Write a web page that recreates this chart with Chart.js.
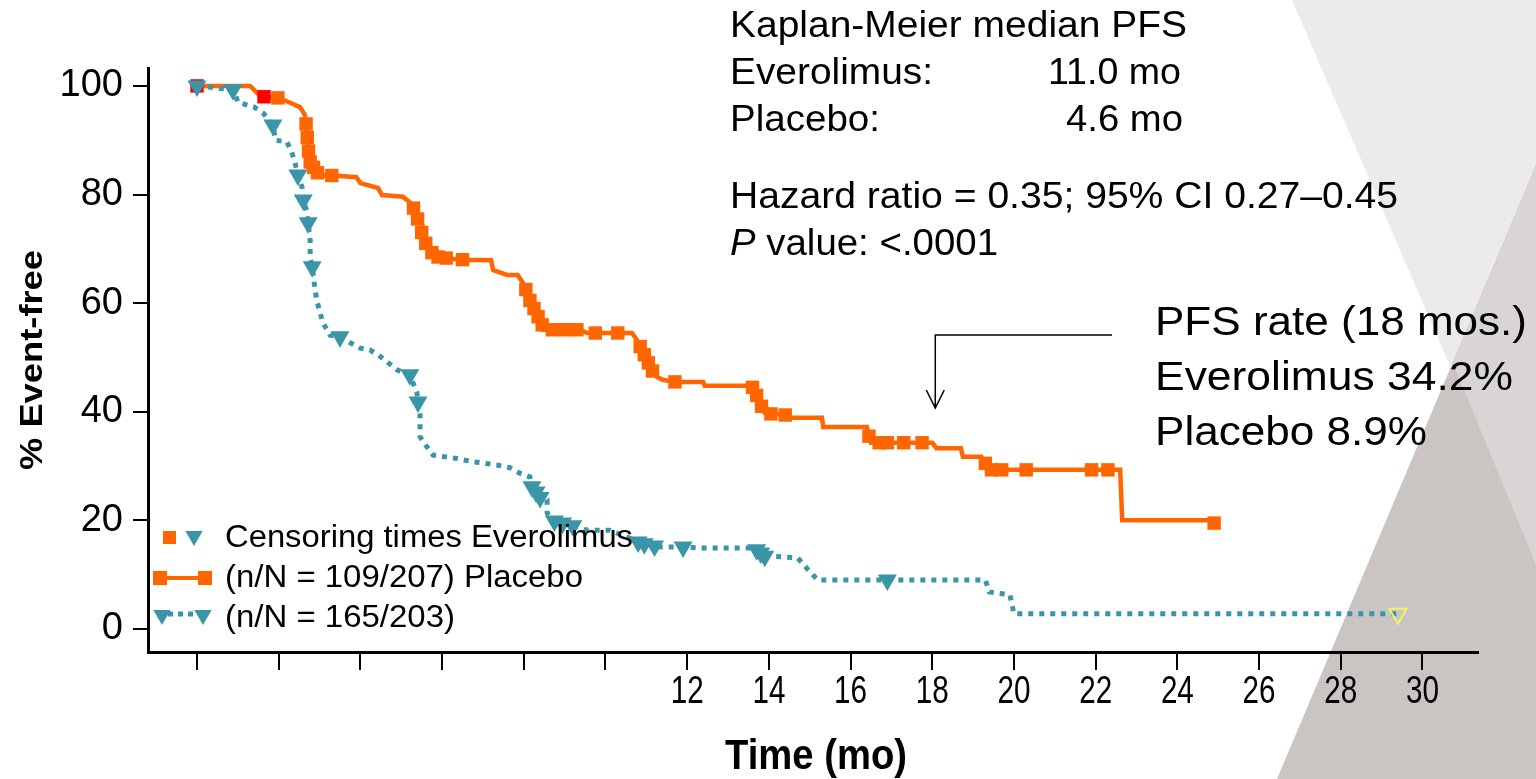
<!DOCTYPE html>
<html>
<head>
<meta charset="utf-8">
<script src="https://cdn.jsdelivr.net/npm/chart.js@4/dist/chart.umd.min.js"></script>
<style>
  html, body { margin: 0; padding: 0; background: #fff; }
  #wrap { width: 1536px; height: 779px; }
</style>
</head>
<body>
<div id="wrap"><canvas id="km" width="1536" height="779"></canvas></div>
<script>
// Everolimus (orange, solid) - curve as drawn
const everolimusTime = [0, 1.3, 1.5, 1.64, 2.0, 2.28, 2.52, 2.64, 2.69, 2.74, 2.81, 2.94, 3.0, 3.5, 3.9, 4.0, 4.43, 4.53, 5.04, 5.2,
  5.34, 5.5, 5.58, 5.7, 5.9, 6.44, 7.2, 7.25, 7.59, 7.85, 7.98, 8.47, 9.38, 9.55, 10.65, 10.77, 11.26, 11.4, 11.7, 12.39,
  12.43, 13.5, 13.66, 13.78, 13.9, 14.5, 14.55, 15.3, 15.33, 16.4, 16.5, 18.0, 18.1, 18.7, 18.75, 19.2, 19.35, 22.6, 22.65, 24.9];
const everolimusPFS = [100, 100, 98.5, 98, 97.8, 96.9, 96.1, 94.7, 91.9, 87.7, 86.4, 84.5, 83.6, 83.4, 83.2, 82.1, 81.2, 79.9, 79.6, 78.6,
  77.2, 74.8, 72.2, 69.8, 68.5, 68, 67.9, 66.1, 65.2, 65.2, 63.7, 55.1, 55.1, 54.5, 54.5, 53.2, 46.4, 45.9, 45.5, 45.5,
  44.8, 44.8, 44.2, 42.2, 39.8, 39.4, 38.9, 38.9, 37.2, 37.2, 34.3, 34.3, 33.3, 33.3, 31.7, 31.7, 29.3, 29.3, 20, 20];

// Everolimus censoring marks (squares)
const everolimusCensorTime = [0, 1.64, 1.98, 2.67, 2.7, 2.73, 2.77, 2.85, 2.95, 3.3,
  5.3, 5.4, 5.5, 5.6, 5.75, 5.9, 6.1, 6.5,
  8.05, 8.15, 8.25, 8.35, 8.45, 8.7, 9.0, 9.3, 9.75, 10.3,
  10.85, 10.95, 11.05, 11.15, 11.7,
  13.6, 13.7, 13.82, 14.05, 14.4,
  16.45, 16.7, 16.9, 17.3, 17.75,
  19.3, 19.45, 19.7, 20.3, 21.9, 22.3, 24.9];
const everolimusCensorPFS = [100, 98, 97.8, 93, 90.5, 88, 86, 85, 84, 83.5,
  77.5, 75.5, 73, 71, 69.3, 68.5, 68.3, 68,
  62.5, 60.5, 59, 57.5, 56, 55.1, 55.1, 55.1, 54.5, 54.5,
  52, 50.5, 49, 47.5, 45.5,
  44.5, 43, 41, 39.6, 39.4,
  35.5, 34.3, 34.3, 34.3, 34.3,
  30.5, 29.3, 29.3, 29.3, 29.3, 29.3, 19.5];

// Placebo (teal, dotted)
const placeboTime = [0, 0.9, 1.0, 1.4, 1.62, 1.86, 1.92, 2.2, 2.32, 2.4, 2.47, 2.57, 2.6, 2.7, 2.72, 2.77, 2.77, 2.82, 2.9, 2.95,
  3.08, 3.26, 3.5, 3.75, 4.0, 4.23, 4.43, 4.65, 4.9, 5.21, 5.38, 5.41, 5.46, 5.46, 5.63, 5.78, 6.27, 6.76, 7.34, 7.66,
  7.9, 8.15, 8.2, 8.57, 8.57, 8.7, 9.3, 9.55, 10.1, 10.5, 10.8, 11.3, 11.9, 12.3, 13.6, 13.9, 14.3, 14.7, 14.8, 14.96,
  15.2, 19.3, 19.4, 19.9, 20.0, 29.4];
const placeboPFS = [100, 99.3, 97, 96.1, 95, 92.8, 90, 89.7, 87.8, 85.8, 83.6, 81.4, 79, 76.6, 74.8, 71.6, 68.5, 66.7, 61.9, 60,
  56.4, 54.1, 53.8, 52.7, 51.7, 51.4, 50.5, 49.2, 47.7, 46.8, 43.6, 41.8, 39.4, 35.4, 33.5, 32, 31.5, 30.8, 30.2, 29.7,
  28.7, 28, 26.1, 23.8, 21.4, 20, 18.8, 18.2, 18.2, 17, 16, 15.1, 15.1, 14.9, 14.9, 13.4, 13.3, 13.1, 12.3, 10.9,
  9.0, 9.0, 6.8, 6.3, 2.8, 2.8];

// Placebo censoring marks (down triangles)
const placeboCensorTime = [0, 0.88, 1.86, 2.47, 2.6, 2.72, 2.82, 3.5, 5.21, 5.41,
  8.2, 8.3, 8.4, 8.75, 8.95, 9.2, 10.8, 10.95, 11.2, 11.9, 13.7, 13.8, 13.9, 16.9];
const placeboCensorPFS = [100, 99.3, 92.8, 83.6, 79, 74.8, 66.7, 53.8, 46.8, 41.8,
  26.2, 25.2, 24.2, 19.9, 19.5, 19.0, 16, 15.7, 15.3, 15.1, 14.6, 14.0, 13.4, 9.0];
const placeboLastTime = [29.4];
const placeboLastPFS = [2.8];

const xTicks = [0, 2, 4, 6, 8, 10, 12, 14, 16, 18, 20, 22, 24, 26, 28, 30];
const xTickLabels = [12, 14, 16, 18, 20, 22, 24, 26, 28, 30];
const yTicks = [0, 20, 40, 60, 80, 100];

const ORANGE = '#ff6600';
const TEAL = '#3b95a9';
const FONT = 'Liberation Sans, Arial, sans-serif';

function pts(xs, ys) {
  return xs.map((x, i) => ({ x, y: ys[i] }));
}

// text squeezed/stretched to the width it has in the picture
function fitText(ctx, s, x, y, size, w, weight) {
  ctx.font = (weight || 'normal') + ' ' + size + 'px ' + FONT;
  const m = ctx.measureText(s).width;
  ctx.save();
  ctx.translate(x, y);
  ctx.scale(w / m, 1);
  ctx.textAlign = 'left';
  ctx.textBaseline = 'middle';
  ctx.fillText(s, 0, 0);
  ctx.restore();
}

function downTri(ctx, x, y, r, fill, stroke) {
  ctx.beginPath();
  ctx.moveTo(x, y + r);
  ctx.lineTo(x - r * 0.866, y - r / 2);
  ctx.lineTo(x + r * 0.866, y - r / 2);
  ctx.closePath();
  if (fill) { ctx.fillStyle = fill; ctx.fill(); }
  if (stroke) { ctx.strokeStyle = stroke; ctx.stroke(); }
}

const backdrop = {
  id: 'backdrop',
  beforeDraw(chart) {
    const ctx = chart.ctx;
    const W = chart.width, H = chart.height;
    ctx.save();
    ctx.fillStyle = '#ffffff';
    ctx.fillRect(0, 0, W, H);
    // light triangle top right
    ctx.fillStyle = '#ecebec';
    ctx.beginPath();
    ctx.moveTo(W - 244, 0); ctx.lineTo(W, 0); ctx.lineTo(W, 565); ctx.closePath(); ctx.fill();
    // dark triangle bottom right
    ctx.fillStyle = '#cac5c3';
    ctx.beginPath();
    ctx.moveTo(W, 165); ctx.lineTo(W, H); ctx.lineTo(W - 259, H); ctx.closePath(); ctx.fill();
    // overlap
    ctx.fillStyle = '#d9d5d4';
    ctx.beginPath();
    ctx.moveTo(W, 165); ctx.lineTo(W - 83, 363); ctx.lineTo(W, 565); ctx.closePath(); ctx.fill();
    ctx.restore();
  }
};

const notes = {
  id: 'notes',
  afterDraw(chart) {
    const ctx = chart.ctx;
    const xs = chart.scales.x;
    ctx.save();
    ctx.fillStyle = '#000';

    // condensed x tick labels
    ctx.font = '38px ' + FONT;
    xTickLabels.forEach(v => {
      const s = String(v);
      const w = ctx.measureText(s).width * 0.78;
      ctx.save();
      ctx.translate(xs.getPixelForValue(v) - w / 2, 693);
      ctx.scale(0.78, 1);
      ctx.textBaseline = 'middle';
      ctx.fillText(s, 0, 0);
      ctx.restore();
    });

    // axis titles
    ctx.save();
    ctx.translate(33, 360);
    ctx.rotate(-Math.PI / 2);
    fitText(ctx, '% Event-free', -110, 0, 32, 220, 'bold');
    ctx.restore();
    fitText(ctx, 'Time (mo)', 725, 757, 42, 182, 'bold');

    // median block
    fitText(ctx, 'Kaplan-Meier median PFS', 730, 27, 36, 457);
    fitText(ctx, 'Everolimus:', 730, 74, 36, 203);
    fitText(ctx, '11.0 mo', 1048, 74, 36, 133);
    fitText(ctx, 'Placebo:', 730, 121, 36, 150);
    fitText(ctx, '4.6 mo', 1066, 121, 36, 117);
    fitText(ctx, 'Hazard ratio = 0.35; 95% CI 0.27\u20130.45', 730, 198, 36, 668);
    ctx.font = 'italic 36px ' + FONT;
    const wP = ctx.measureText('P').width;
    ctx.font = '36px ' + FONT;
    const wRest = ctx.measureText(' value: <.0001').width;
    const k = 268 / (wP + wRest);
    ctx.save();
    ctx.translate(730, 245);
    ctx.scale(k, 1);
    ctx.textBaseline = 'middle';
    ctx.font = 'italic 36px ' + FONT;
    ctx.fillText('P', 0, 0);
    ctx.font = '36px ' + FONT;
    ctx.fillText(' value: <.0001', wP, 0);
    ctx.restore();

    // 18 month rates
    fitText(ctx, 'PFS rate (18 mos.)', 1155, 324, 41, 372);
    fitText(ctx, 'Everolimus 34.2%', 1155, 379, 41, 358);
    fitText(ctx, 'Placebo 8.9%', 1155, 434, 41, 272);

    // arrow to 18 months
    const ax = xs.getPixelForValue(18) + 3;
    ctx.strokeStyle = '#000';
    ctx.lineWidth = 1.5;
    ctx.beginPath();
    ctx.moveTo(1112, 335); ctx.lineTo(ax, 335); ctx.lineTo(ax, 408);
    ctx.moveTo(ax - 9, 390); ctx.lineTo(ax, 408); ctx.lineTo(ax + 9, 390);
    ctx.stroke();

    // legend
    ctx.fillStyle = ORANGE;
    ctx.fillRect(163, 531, 13, 13);
    downTri(ctx, 194, 536, 10, TEAL);
    ctx.fillStyle = '#000';
    fitText(ctx, 'Censoring times Everolimus', 225, 538, 31, 408);

    ctx.strokeStyle = ORANGE;
    ctx.lineWidth = 4;
    ctx.beginPath(); ctx.moveTo(160, 578); ctx.lineTo(205, 578); ctx.stroke();
    ctx.fillStyle = ORANGE;
    ctx.fillRect(153, 571, 14, 14);
    ctx.fillRect(198, 571, 14, 14);
    ctx.fillStyle = '#000';
    fitText(ctx, '(n/N = 109/207) Placebo', 225, 578, 31, 358);

    ctx.strokeStyle = TEAL;
    ctx.lineWidth = 5;
    ctx.setLineDash([5, 5]);
    ctx.beginPath(); ctx.moveTo(168, 614); ctx.lineTo(198, 614); ctx.stroke();
    ctx.setLineDash([]);
    downTri(ctx, 162, 615, 10, TEAL);
    downTri(ctx, 203, 615, 10, TEAL);
    ctx.fillStyle = '#000';
    fitText(ctx, '(n/N = 165/203)', 225, 618, 31, 230);
    ctx.restore();
  }
};

new Chart(document.getElementById('km'), {
  type: 'scatter',
  data: {
    datasets: [
      {
        label: 'Placebo last',
        data: pts(placeboLastTime, placeboLastPFS),
        pointStyle: 'triangle', rotation: 180, pointRadius: 10,
        backgroundColor: 'rgba(0,0,0,0)', borderColor: '#f2f26a', borderWidth: 2,
        showLine: false
      },
      {
        label: 'Placebo censored',
        data: pts(placeboCensorTime, placeboCensorPFS),
        pointStyle: 'triangle', rotation: 180, pointRadius: 11,
        backgroundColor: TEAL, borderWidth: 0,
        showLine: false
      },
      {
        label: 'Everolimus censored',
        data: pts(everolimusCensorTime, everolimusCensorPFS),
        pointStyle: 'rect', pointRadius: 9.5,
        backgroundColor: everolimusCensorTime.map((t, i) => i < 2 ? '#ff0000' : ORANGE),
        borderWidth: 0,
        showLine: false
      },
      {
        label: 'Placebo',
        data: pts(placeboTime, placeboPFS),
        showLine: true, pointRadius: 0,
        borderColor: TEAL, borderWidth: 5, borderDash: [5, 6],
        borderCapStyle: 'butt', tension: 0
      },
      {
        label: 'Everolimus',
        data: pts(everolimusTime, everolimusPFS),
        showLine: true, pointRadius: 0,
        borderColor: ORANGE, borderWidth: 4.5, tension: 0
      }
    ]
  },
  options: {
    responsive: false,
    devicePixelRatio: 1,
    animation: false,
    layout: { padding: { top: 68, right: 58, left: 0, bottom: 0 } },
    plugins: { legend: { display: false }, tooltip: { enabled: false } },
    scales: {
      x: {
        type: 'linear', min: -1.2, max: 31.36,
        afterBuildTicks: s => { s.ticks = xTicks.map(v => ({ value: v })); },
        afterFit: s => { s.height = 127; },
        grid: { drawOnChartArea: false, drawTicks: true, tickLength: 18, color: '#000', lineWidth: 2 },
        border: { display: true, color: '#000', width: 3 },
        ticks: { autoSkip: false, maxRotation: 0, callback: () => '' }
      },
      y: {
        min: -4.24, max: 103.3,
        afterBuildTicks: s => { s.ticks = yTicks.map(v => ({ value: v })); },
        afterFit: s => { s.width = 148; },
        grid: { drawOnChartArea: false, drawTicks: true, tickLength: 15, color: '#000', lineWidth: 2 },
        border: { display: true, color: '#000', width: 3 },
        ticks: { color: '#000', padding: 10, font: { family: FONT, size: 38 } }
      }
    }
  },
  plugins: [backdrop, notes]
});
</script>
</body>
</html>
